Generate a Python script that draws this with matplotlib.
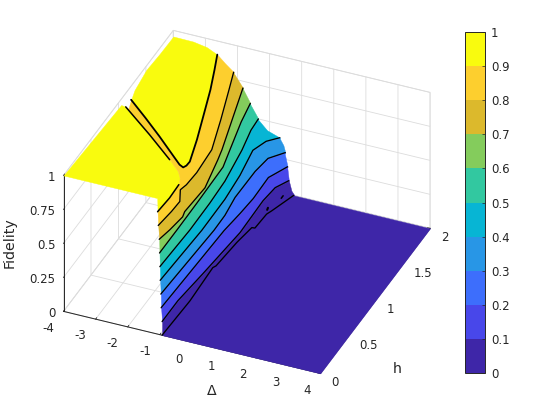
import matplotlib
matplotlib.use("Agg")
import matplotlib.pyplot as plt
import numpy as np
from matplotlib import cm, colors
from mpl_toolkits.mplot3d.art3d import Poly3DCollection

plt.rcParams['font.family'] = 'DejaVu Sans'
plt.rcParams['grid.color'] = '#dcdcdc'
plt.rcParams['grid.linewidth'] = 0.6

band_colors = ['#3E26A8', '#4847EA', '#3D6EFC', '#2896E6', '#07B5D4',
               '#32C8A0', '#84CC5C', '#DCB92C', '#FDCF2E', '#F9FB0E']
levels = [0, .1, .2, .3, .4, .5, .6, .7, .8, .9, 1]
level_labels = ['0', '0.1', '0.2', '0.3', '0.4', '0.5', '0.6', '0.7', '0.8', '0.9', '1']
delta_ticks = [-4, -3, -2, -1, 0, 1, 2, 3, 4]
delta_tick_labels = ['-4', '-3', '-2', '-1', '0', '1', '2', '3', '4']
h_ticks = [0, .5, 1, 1.5, 2]
h_tick_labels = ['0', '0.5', '1', '1.5', '2']
z_ticks = [0, .25, .5, .75, 1]
z_tick_labels = ['0', '0.25', '0.5', '0.75', '1']

# iso-fidelity lines: (delta, h) at each level
upper_09_d = [-4, -3.26, -2.52, -1.70, -1.43, -1.28, -1.23, -1.22, -1.47, -1.79, -2.11, -2.40, -2.63]
upper_09_h = [1.231, 1.060, .883, .678, .611, .589, .619, .675, .951, 1.262, 1.571, 1.815, 2]
lower_09_d = [-1.07, -1.03, -1.05, -1.17, -1.34, -1.79, -2.81, -4]
lower_09_h = [0, .195, .376, .46, .528, .641, .874, 1.133]
line_08_d = [-1.05, -.98, -.96, -1.18, -1.12, -1.09, -1.15, -1.51, -1.89, -2.12]
line_08_h = [0, .201, .341, .479, .554, .724, 1.034, 1.409, 1.78, 2]
line_07_d = [-1.02, -.93, -.85, -.90, -.84, -1.06, -1.15, -1.48, -1.83]
line_07_h = [0, .14, .328, .395, .729, 1.091, 1.219, 1.597, 2]
line_06_d = [-1.01, -1.01, -1.02, -1.05, -1.21, -1.47, -1.60]
line_06_h = [0, .331, .687, 1.181, 1.399, 1.756, 2]
line_05_d = [-1, -.94, -.95, -.99, -1.16, -1.32, -1.35]
line_05_h = [0, .51, .881, 1.18, 1.589, 1.848, 2]
line_04_d = [-.99, -.89, -.90, -.98, -1.14, -.97, -.68]
line_04_h = [0, .701, 1.127, 1.449, 1.777, 1.919, 2]
line_03_d = [-.97, -.84, -.85, -.94, -.93, -.85, -.51]
line_03_h = [0, .892, 1.098, 1.336, 1.695, 1.884, 2]
line_02_d = [-.96, -.84, -.76, -.71, -.73, -.44]
line_02_h = [0, 1.077, 1.32, 1.533, 1.82, 2]
line_01_d = [-.93, -.93, -.81, -.65, -.68, -.62, -.40]
line_01_h = [0, .288, .673, 1.256, 1.694, 1.88, 2]
line_00_d = [-.93, -.88, -.94, -.89, -.81, -.80, -.71, -.62, -.59, -.52, -.25]
line_00_h = [0, .478, .931, .96, 1.29, 1.314, 1.507, 1.51, 1.706, 1.759, 2]
island_a_d = [-.66, -.68]
island_a_h = [1.757, 1.783]
island_b_d = [-.52, -.52]
island_b_h = [1.931, 1.966]
# fidelity along the far edge (h = 2)
back_delta = [-3.96, -3.38, -2.96, -2.63, -2.39, -2.13, -1.84, -1.61, -1.36, -1.08, -.69, -.57, -.53, -.45, -.4, -.32, -.22]
back_z = [.955, .953, .936, .9, .85, .797, .697, .596, .495, .432, .396, .35, .293, .194, .1, .03, 0]

cont = {.8: (line_08_d, line_08_h), .7: (line_07_d, line_07_h), .6: (line_06_d, line_06_h),
        .5: (line_05_d, line_05_h), .4: (line_04_d, line_04_h), .3: (line_03_d, line_03_h),
        .2: (line_02_d, line_02_h), .1: (line_01_d, line_01_h), 0: (line_00_d, line_00_h)}

fig = plt.figure(figsize=(5.6, 4.2), dpi=100)
P = 420
cx, cy = 246.8, 201.9
ax = fig.add_axes([(cx-.5135*P)/560, (420-(cy+.5135*P))/420, P/560, P/420], projection='3d')
ax.set_proj_type('ortho')
ax.view_init(elev=34.4, azim=-66.85)
ax.set_box_aspect((1, 1, .59), zoom=.989)
ax.computed_zorder = False
ax.patch.set_alpha(0)


def add(verts, color, z):
    ax.add_collection3d(Poly3DCollection([verts], facecolors=color, edgecolors=color, linewidths=.3, zorder=z), autolim=False)


def backpts(zhi, zlo):
    return [(d, 2, z) for d, z in zip(back_delta, back_z) if zlo < z < zhi]


def at(level):
    d, h = cont[level]
    return [(a, b, level) for a, b in zip(d, h)]


low = [(a, b, .9) for a, b in zip(lower_09_d, lower_09_h)]
up = [(a, b, .9) for a, b in zip(upper_09_d, upper_09_h)]
add([(-4, 0, 1), (-1.08, 0, 1)] + low + [(-4, 1.05, .958)], band_colors[9], 2)
add(up + backpts(1, .9)[::-1] + [(-4, 2, .955), (-4, 1.75, .96), (-4, 1.508, .972), (-4, 1.294, .938)], band_colors[9], 2)
add(up + backpts(.9, .8) + at(.8)[::-1] + low + [(-4, 1.18, .86)], band_colors[8], 3)
for i in range(7, 0, -1):
    add(at(levels[i+1]) + backpts(levels[i+1], levels[i]) + at(levels[i])[::-1], band_colors[i], 3)
add(at(.1) + backpts(.1, -1) + [(-.22, 2, 0), (4, 2, 0), (4, 0, 0), (-.93, 0, 0)], band_colors[0], 3)


def line(d, h, z, lw=.95):
    ax.plot(d, h, np.full(len(d), z), color='k', lw=lw, zorder=5, solid_capstyle='round')


line(upper_09_d, upper_09_h, .9, 1.3)
line(lower_09_d[:3], lower_09_h[:3], .9, 1.1)
line(lower_09_d[5:], lower_09_h[5:], .9, 1.1)
for L, (d, h) in cont.items():
    line(d, h, L)
line(island_a_d, island_a_h, 0, 1.5)
line(island_b_d, island_b_h, 0, 1.1)

ax.set_xlim(-4, 4, view_margin=0)
ax.set_ylim(0, 2, view_margin=0)
ax.set_zlim(0, 1, view_margin=0)
ax.set_xticks(delta_ticks)
ax.set_yticks(h_ticks)
ax.set_zticks(z_ticks)
ax.set_xticklabels(delta_tick_labels, ha='right', va='bottom')
ax.set_yticklabels(h_tick_labels, ha='left', va='center')
ax.set_zticklabels(z_tick_labels, ha='right', va='center')
for axis in (ax.xaxis, ax.yaxis, ax.zaxis):
    axis.set_pane_color('white')
    axis.pane.set_edgecolor('#dcdcdc')
    axis.pane.set_linewidth(.6)
    axis.line.set_color('#262626')
    axis.line.set_linewidth(.7)
    axis._axinfo['tick']['inward_factor'] = 0
    axis._axinfo['tick']['outward_factor'] = .12
    axis._axinfo['tick']['linewidth'] = {True: .6, False: .6}
    axis._axinfo['tick']['color'] = '#262626'
ax.tick_params(labelsize=8.5, colors='#262626')
ax.tick_params(axis='x', pad=5)
ax.tick_params(axis='y', pad=-1)
ax.tick_params(axis='z', pad=-4.5)
ax.zaxis.set_ticks_position('lower')

fig.text(212/560, 1-391/420, '\u0394', fontsize=10.2, color='#262626', ha='center', va='center')
fig.text(397/560, 1-369/420, 'h', fontsize=10.2, color='#262626', ha='center', va='center')
fig.text(9.5/560, 1-243/420, 'Fidelity', fontsize=10.2, color='#262626', ha='center', va='center', rotation=90)

cax = fig.add_axes([465.3/560, 1-373.3/420, 20/560, 341.6/420])
cmap = colors.ListedColormap(band_colors)
norm = colors.BoundaryNorm(levels, 10)
cb = fig.colorbar(cm.ScalarMappable(norm=norm, cmap=cmap), cax=cax, ticks=levels, spacing='proportional')
cb.ax.set_yticklabels(level_labels)
cb.ax.tick_params(direction='in', length=2.5, width=.5, labelsize=8.5, colors='#262626', pad=4, right=True)
cb.outline.set_edgecolor('#262626')
cb.outline.set_linewidth(.7)

fig.savefig('out.png', dpi=100)
